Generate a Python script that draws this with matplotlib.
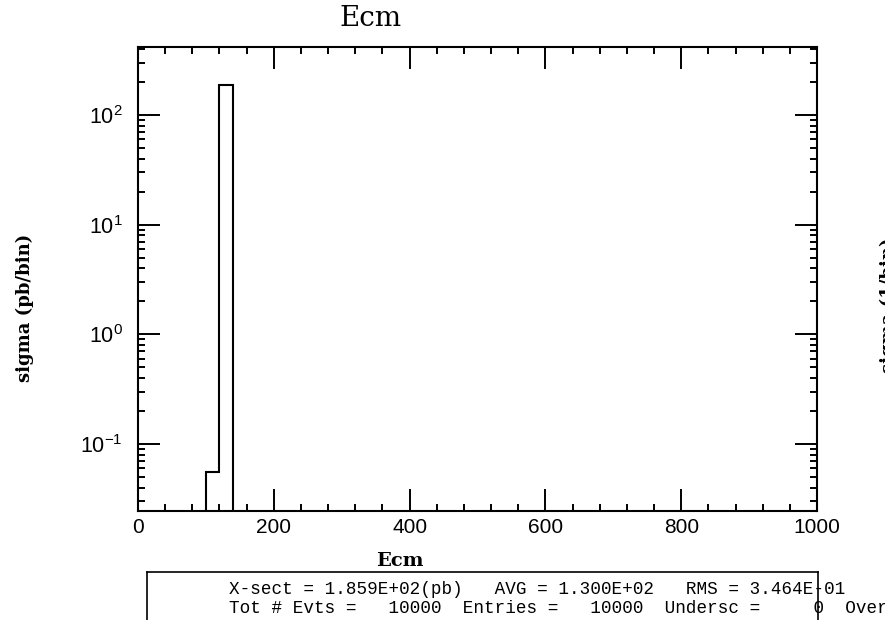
import matplotlib
matplotlib.use("Agg")
import matplotlib.pyplot as plt
from matplotlib.ticker import MultipleLocator, LogLocator, NullFormatter
from matplotlib.lines import Line2D
import numpy as np

# Histogram contents: Ecm distribution, bins of width 20
bin_edges = [100, 120, 140]
sigma_per_bin = [0.0556, 185.85]

title_text = "Ecm"
x_label = "Ecm"
y_label = "sigma (pb/bin)"
y_label_next = "sigma (1/bin)"
stats_line1 = "X-sect = 1.859E+02(pb)   AVG = 1.300E+02   RMS = 3.464E-01"
stats_line2 = "Tot # Evts =   10000  Entries =   10000  Undersc =     0  Oversc =     0"

plt.rcParams["font.family"] = ["Liberation Sans", "DejaVu Sans"]
plt.rcParams["mathtext.fontset"] = "custom"
plt.rcParams["mathtext.rm"] = "Liberation Sans"
plt.rcParams["mathtext.it"] = "Liberation Sans"

W, H = 885, 620
fig = plt.figure(figsize=(W / 100, H / 100), dpi=100)

left, right, top, bottom = 138, 817, 47, 511
ax = fig.add_axes([left / W, 1 - bottom / H, (right - left) / W, (bottom - top) / H])

ax.stairs(sigma_per_bin, bin_edges, baseline=1e-6, color="black", linewidth=1.5)

ax.set_yscale("log")
ax.set_xlim(0, 1000)
ax.set_ylim(0.0245, 417)

ax.xaxis.set_major_locator(MultipleLocator(200))
ax.xaxis.set_minor_locator(MultipleLocator(40))
ax.yaxis.set_major_locator(LogLocator(base=10))
ax.yaxis.set_minor_locator(LogLocator(base=10, subs=np.arange(2, 10)))
ax.yaxis.set_minor_formatter(NullFormatter())

for s in ax.spines.values():
    s.set_linewidth(1.5)

ax.tick_params(which="both", direction="in", top=True, right=True, width=1.4, color="black")
ax.tick_params(which="major", length=16)
ax.tick_params(which="minor", length=5)
ax.tick_params(axis="x", which="major", labelsize=15, pad=5)
ax.tick_params(axis="y", which="major", labelsize=15.5, pad=11)

# Title, axis labels
fig.text(371 / W, 1 - 18 / H, title_text, family="DejaVu Serif", fontsize=20,
         ha="center", va="center")
fig.text(400 / W, 1 - 561 / H, x_label, family="DejaVu Serif", fontsize=14,
         fontweight="bold", ha="center", va="center")
fig.text(25 / W, 1 - 308 / H, y_label, family="DejaVu Serif", fontsize=13,
         fontweight="bold", rotation=90, ha="center", va="center")
fig.text(880 / W, 1 - 305 / H, y_label_next, family="DejaVu Serif", fontsize=13,
         fontweight="bold", rotation=90, ha="left", va="center")

# Statistics box
fig.add_artist(Line2D([147 / W, 818 / W], [1 - 572 / H, 1 - 572 / H], color="black", linewidth=1.2))
fig.add_artist(Line2D([147 / W, 147 / W], [1 - 572 / H, 0], color="black", linewidth=1.2))
fig.add_artist(Line2D([818 / W, 818 / W], [1 - 572 / H, 0], color="black", linewidth=1.2))
fig.text(229 / W, 1 - 594 / H, stats_line1, family="Liberation Mono", fontsize=12.7,
         ha="left", va="baseline")
fig.text(229 / W, 1 - 613 / H, stats_line2, family="Liberation Mono", fontsize=12.7,
         ha="left", va="baseline")

fig.savefig("out.png", dpi=100)
